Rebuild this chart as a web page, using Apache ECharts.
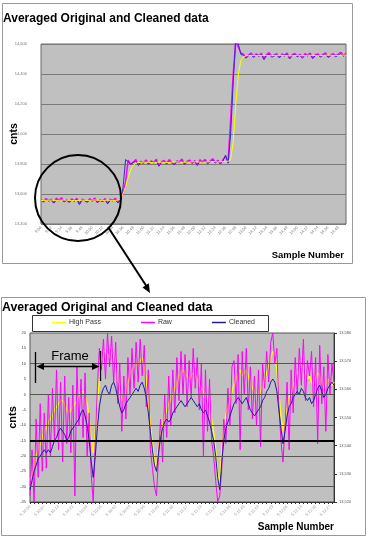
<!DOCTYPE html>
<html><head><meta charset="utf-8">
<script src="https://cdn.jsdelivr.net/npm/echarts@6/dist/echarts.min.js"></script>
<style>html,body{margin:0;padding:0;background:#fff}#c{width:369px;height:540px}</style>
</head><body><div id="c"></div>
<script>
const titleText = "Averaged Original and Cleaned data";
const seriesNames = ["High Pass", "Raw", "Cleaned"];
const seriesColors = ["#ffff00", "#ff00ff", "#1c1c9c"];

const topTickLabels = ["9:00","9:12","9:24","9:36","9:48","10:00","10:12","10:24","10:36","10:48","11:00","11:12","11:24","11:36","11:48","12:00","12:12","12:24","12:36","12:48","13:00","13:12","13:24","13:36","13:48","14:00","14:12","14:24","14:36","14:48"];

const topRaw = [
13562,13548,13570,13555,13566,13541,13572,13558,13575,13550,
13564,13546,13568,13553,13571,13534,13566,13559,13547,13569,
13556,13573,13544,13562,13551,13570,13538,13565,13557,13572,
13549,13568,13600,13680,
13826,13798,13812,13830,13795,13818,13808,13827,13802,13820,
13811,13832,13790,13816,13823,13805,13829,13812,13797,13821,
13815,13833,13800,13818,13826,13808,13822,13795,13828,13814,
13830,13806,13819,13835,13810,13825,13803,13829,13850,13812,
14100,14400,14620,14580,14540,
14532,14510,14528,14540,14515,14535,14522,14538,14505,14530,
14542,14518,14527,14536,14512,14533,14525,14540,14508,14529,
14537,14520,14531,14514,14535,14526,14539,14510,14528,14534,
14519,14530,14541,14516,14527,14536,14521,14533,14545,14524,
14538];

const topCleaned = [
13556,13552,13560,13554,13558,13540,13561,13555,13563,13548,
13557,13545,13559,13553,13562,13530,13558,13556,13546,13560,
13554,13562,13544,13557,13550,13561,13535,13558,13555,13562,
13540,13560,13640,13830,
13815,13800,13810,13820,13790,13812,13805,13818,13798,13814,
13808,13822,13785,13811,13816,13800,13820,13808,13795,13815,
13810,13822,13798,13813,13818,13804,13816,13790,13819,13810,
13821,13802,13814,13825,13806,13818,13800,13820,13860,13805,
14000,14350,14640,14600,14530,
14525,14505,14522,14530,14510,14528,14518,14530,14495,14524,
14532,14512,14520,14528,14508,14526,14520,14532,14500,14522,
14530,14515,14525,14505,14528,14520,14531,14502,14522,14527,
14513,14524,14533,14510,14521,14528,14515,14526,14535,14518,
14530];

const topHighPass = [
13556,13557,13558,13558,13559,13558,13557,13558,13559,13560,
13559,13558,13557,13556,13557,13558,13559,13558,13557,13558,
13559,13560,13559,13558,13557,13558,13559,13558,13557,13558,
13559,13565,13600,13650,13710,13760,13790,13805,
13810,13811,13812,13812,13811,13810,13811,13812,13813,13812,
13811,13810,13811,13812,13813,13814,13813,13812,13811,13812,
13813,13814,13815,13814,13813,13812,13813,13814,13815,13816,
13815,13814,13815,13816,13818,13818,
13830,13950,14200,14400,14490,14515,
14522,14523,14524,14523,14522,14523,14524,14525,14524,14523,
14522,14523,14524,14525,14524,14523,14522,14521,14522,14523,
14524,14523,14522,14523,14524,14525,14524,14523,14522,14523,
14524,14525,14526,14525,14524,14523,14524,14525,14526,14525];

const bottomTickLabels = ["5:10:00","5:10:07","5:10:14","5:10:21","5:10:28","5:10:35","5:10:42","5:10:49","5:10:56","5:11:03","5:11:10","5:11:17","5:11:24","5:11:31","5:11:38","5:11:45","5:11:52","5:11:59","5:12:06","5:12:13","5:12:20","5:12:27"];

const bottomHighPass = [
-28,-26,-23,-20,-18,-16,-14,-12,-11,-9,
-8,-7,-5,-4,-3,-2,-2,-3,-5,-6,
-5,-4,-3,-2,0,1,1,0,-3,-8,
-14,-19,-12,-3,5,11,14,14,13,12,
14,12,9,5,1,-2,-1,1,4,6,
8,9,10,10,11,12,9,5,-2,-10,
-16,-21,-24,-17,-13,-10,-7,-5,-3,-2,
0,2,4,6,7,8,7,6,5,6,
7,6,5,3,2,1,0,-2,-4,-8,
-12,-18,-26,-29,-18,-11,-7,-4,-2,1,
3,5,7,8,6,7,8,6,4,2,
1,0,0,1,3,5,7,9,12,14,
13,8,0,-7,-12,-8,-4,-1,1,3,
5,7,8,10,9,7,5,6,4,3,
5,7,6,4,2,3,5,4,3,4];

const bottomRaw = [
-33,-18,-35,-8,-27,-3,-25,-6,-24,0,
-20,2,-15,8,-18,4,-22,6,-16,-1,
-19,3,-33,9,-10,5,-14,7,-20,-6,
-26,-35,-15,2,15,8,18,5,20,9,
19,4,17,-3,10,-12,6,-8,12,0,
15,2,17,4,18,6,16,-4,8,-18,
-24,-30,-33,-20,-8,-22,0,-14,6,-10,
8,-6,12,-2,14,0,13,-4,11,-1,
15,2,12,-5,10,-20,8,-12,5,-15,
-20,-28,-35,-33,-24,-8,-16,2,-10,9,
11,-3,13,-18,14,0,15,-5,9,-8,
6,-10,8,-17,10,2,14,4,17,20,
10,15,-4,-15,-22,-10,4,-18,8,-6,
12,0,15,3,18,-2,11,6,14,-4,
12,-16,16,-3,9,-12,13,0,10,4];

const bottomCleaned = [
-31,-28,-25,-23,-21,-20,-19,-18,-19,-18,
-19,-17,-15,-14,-12,-11,-12,-13,-15,-14,
-12,-11,-10,-9,-8,-6,-5,-7,-10,-15,
-22,-27,-20,-11,-4,0,2,3,1,0,
3,4,2,-1,-4,-6,-5,-3,-2,-1,
0,1,2,1,3,4,2,-1,-6,-12,
-18,-23,-25,-19,-14,-11,-9,-8,-9,-8,
-6,-5,-4,-3,-2,-3,-4,-3,-2,-1,
-2,-3,-4,-3,-5,-6,-5,-7,-9,-12,
-15,-20,-27,-31,-22,-15,-11,-9,-7,-5,
-3,-2,-1,-2,-3,-2,-1,-3,-5,-6,
-7,-6,-5,-4,-2,-1,1,2,4,5,
4,1,-5,-11,-16,-12,-7,-4,-3,-1,
0,1,0,2,1,-1,-2,-1,-3,-2,
0,2,3,1,-1,0,2,3,4,3];

const bottomGridLines = [10, 0, -10, -20, -30];
const bottomThickLine = -15;

const topCats = topRaw.map((_, i) => i);
const botCats = bottomRaw.map((_, i) => i);

const chart = echarts.init(document.getElementById('c'), null, {renderer: 'canvas'});
const tinyLabel = {fontSize: 4, color: '#777', fontFamily: 'Liberation Sans'};

const option = {
  animation: false,
  backgroundColor: '#fff',
  title: [
    {text: titleText, left: 3, top: 13, padding: 0,
     textStyle: {fontSize: 12, fontWeight: 'bold', color: '#000', fontFamily: 'Liberation Sans'}},
    {text: titleText, left: 2, top: 302, padding: 0,
     textStyle: {fontSize: 12.3, fontWeight: 'bold', color: '#000', fontFamily: 'Liberation Sans'}}
  ],
  legend: {
    data: seriesNames, left: 52, top: 319, padding: 0, itemGap: 40,
    icon: 'rect', itemWidth: 14, itemHeight: 1.5, z: 10,
    textStyle: {fontSize: 7, color: '#333', fontFamily: 'Liberation Sans', padding: [0, 0, 0, -2]}
  },
  grid: [
    {left: 41, top: 44, width: 305, height: 180, show: true, backgroundColor: '#c0c0c0', borderColor: '#6a6a6a', borderWidth: 1,
     containLabel: false, outerBoundsMode: 'none'},
    {left: 30, top: 333, width: 304, height: 169, show: true, backgroundColor: '#c0c0c0', borderColor: '#555', borderWidth: 1,
     containLabel: false, outerBoundsMode: 'none'}
  ],
  xAxis: [
    {type: 'category', gridIndex: 0, data: topCats, boundaryGap: false,
     axisLine: {show: false, onZero: false}, axisTick: {show: false},
     axisLabel: Object.assign({interval: 3, rotate: 45, margin: 3,
       formatter: (v, i) => topTickLabels[i / 4] || ''}, tinyLabel)},
    {type: 'category', gridIndex: 1, data: botCats, boundaryGap: false,
     axisLine: {show: true, onZero: false, lineStyle: {color: '#333'}},
     axisTick: {show: true, interval: 1, length: 2, lineStyle: {color: '#333'}},
     axisLabel: Object.assign({interval: 6, rotate: 45, margin: 4,
       formatter: (v, i) => bottomTickLabels[i / 7] || ''}, tinyLabel, {color: '#999'})}
  ],
  yAxis: [
    {type: 'value', gridIndex: 0, min: 13400, max: 14600, interval: 200,
     name: 'cnts', nameLocation: 'middle', nameGap: 21, nameRotate: 90, nameMoveOverlap: false,
     nameTextStyle: {fontSize: 10.5, fontWeight: 'bold', color: '#000', fontFamily: 'Liberation Sans'},
     axisLine: {show: false}, axisTick: {show: false},
     splitLine: {show: true, lineStyle: {color: '#7a7a7a', width: 1}},
     axisLabel: Object.assign({margin: 14}, tinyLabel)},
    {type: 'value', gridIndex: 1, min: -35, max: 20, interval: 5,
     name: 'cnts', nameLocation: 'middle', nameGap: 12, nameRotate: 90, nameMoveOverlap: false,
     nameTextStyle: {fontSize: 11, fontWeight: 'bold', color: '#000', fontFamily: 'Liberation Sans'},
     axisLine: {show: false}, axisTick: {show: false}, splitLine: {show: false},
     axisLabel: Object.assign({margin: 4}, tinyLabel, {color: '#444'})},
    {type: 'value', gridIndex: 1, position: 'right', min: 13520, max: 13580, interval: 10,
     axisLine: {show: true, lineStyle: {color: '#333'}},
     axisTick: {show: true, length: 3, lineStyle: {color: '#333'}},
     splitLine: {show: false},
     axisLabel: Object.assign({margin: 5}, tinyLabel, {color: '#555'})}
  ],
  series: [
    {name: seriesNames[1], type: 'line', xAxisIndex: 0, yAxisIndex: 0, data: topRaw, showSymbol: false,
     lineStyle: {color: seriesColors[1], width: 1.5}, itemStyle: {color: seriesColors[1]}},
    {name: seriesNames[2], type: 'line', xAxisIndex: 0, yAxisIndex: 0, data: topCleaned, showSymbol: false,
     lineStyle: {color: '#3a2ad0', width: 1}, itemStyle: {color: seriesColors[2]}},
    {name: seriesNames[0], type: 'line', xAxisIndex: 0, yAxisIndex: 0, data: topHighPass, showSymbol: false,
     lineStyle: {color: seriesColors[0], width: 1}, itemStyle: {color: seriesColors[0]}},

    {name: seriesNames[0], type: 'line', xAxisIndex: 1, yAxisIndex: 1, data: bottomHighPass, showSymbol: false,
     lineStyle: {color: seriesColors[0], width: 1.5}, itemStyle: {color: seriesColors[0]},
     markLine: {silent: true, symbol: 'none', label: {show: false}, animation: false,
       lineStyle: {color: '#555', width: 1, type: 'solid'},
       data: bottomGridLines.map(v => ({yAxis: v})).concat([{yAxis: bottomThickLine, lineStyle: {color: '#000', width: 2, type: 'solid'}}])}},
    {name: seriesNames[1], type: 'line', xAxisIndex: 1, yAxisIndex: 1, data: bottomRaw, showSymbol: false,
     lineStyle: {color: seriesColors[1], width: 1}, itemStyle: {color: seriesColors[1]}},
    {name: seriesNames[2], type: 'line', xAxisIndex: 1, yAxisIndex: 1, data: bottomCleaned, showSymbol: false,
     lineStyle: {color: seriesColors[2], width: 1}, itemStyle: {color: seriesColors[2]}}
  ],
  graphic: [
    {type: 'rect', shape: {x: 2.5, y: 3.5, width: 350, height: 260}, style: {fill: 'none', stroke: '#999', lineWidth: 1}, silent: true},
    {type: 'rect', shape: {x: 1.5, y: 297.5, width: 364, height: 238}, style: {fill: 'none', stroke: '#999', lineWidth: 1}, silent: true},
    {type: 'rect', shape: {x: 32.5, y: 315.5, width: 236, height: 16}, style: {fill: '#fff', stroke: '#333', lineWidth: 1}, z: 1, silent: true},
    {type: 'text', style: {text: 'Sample Number', x: 344, y: 255, align: 'right', verticalAlign: 'middle',
      font: 'bold 9.5px "Liberation Sans"', fill: '#000'}, silent: true},
    {type: 'text', style: {text: 'Sample Number', x: 334, y: 527, align: 'right', verticalAlign: 'middle',
      font: 'bold 10px "Liberation Sans"', fill: '#000'}, silent: true},
    {type: 'circle', shape: {cx: 78, cy: 198, r: 43}, style: {fill: 'none', stroke: '#000', lineWidth: 2}, z: 100, silent: true},
    {type: 'line', shape: {x1: 108, y1: 227, x2: 147, y2: 287}, style: {stroke: '#000', lineWidth: 2}, z: 100, silent: true},
    {type: 'polygon', shape: {points: [[150, 293], [142.5, 287.5], [148.8, 283.3]]}, style: {fill: '#000'}, z: 100, silent: true},
    {type: 'line', shape: {x1: 35.5, y1: 352, x2: 35.5, y2: 383}, style: {stroke: '#000', lineWidth: 1.3}, z: 100, silent: true},
    {type: 'line', shape: {x1: 100.5, y1: 351, x2: 100.5, y2: 381}, style: {stroke: '#000', lineWidth: 1.3}, z: 100, silent: true},
    {type: 'line', shape: {x1: 40, y1: 366.5, x2: 96, y2: 366.5}, style: {stroke: '#000', lineWidth: 1.5}, z: 100, silent: true},
    {type: 'polygon', shape: {points: [[36.5, 366.5], [44, 363], [44, 370]]}, style: {fill: '#000'}, z: 100, silent: true},
    {type: 'polygon', shape: {points: [[99.5, 366.5], [92, 363], [92, 370]]}, style: {fill: '#000'}, z: 100, silent: true},
    {type: 'text', style: {text: 'Frame', x: 70, y: 356, align: 'center', verticalAlign: 'middle',
      font: '13px "Liberation Sans"', fill: '#000'}, z: 100, silent: true}
  ]
};
chart.setOption(option);
</script>
</body></html>
